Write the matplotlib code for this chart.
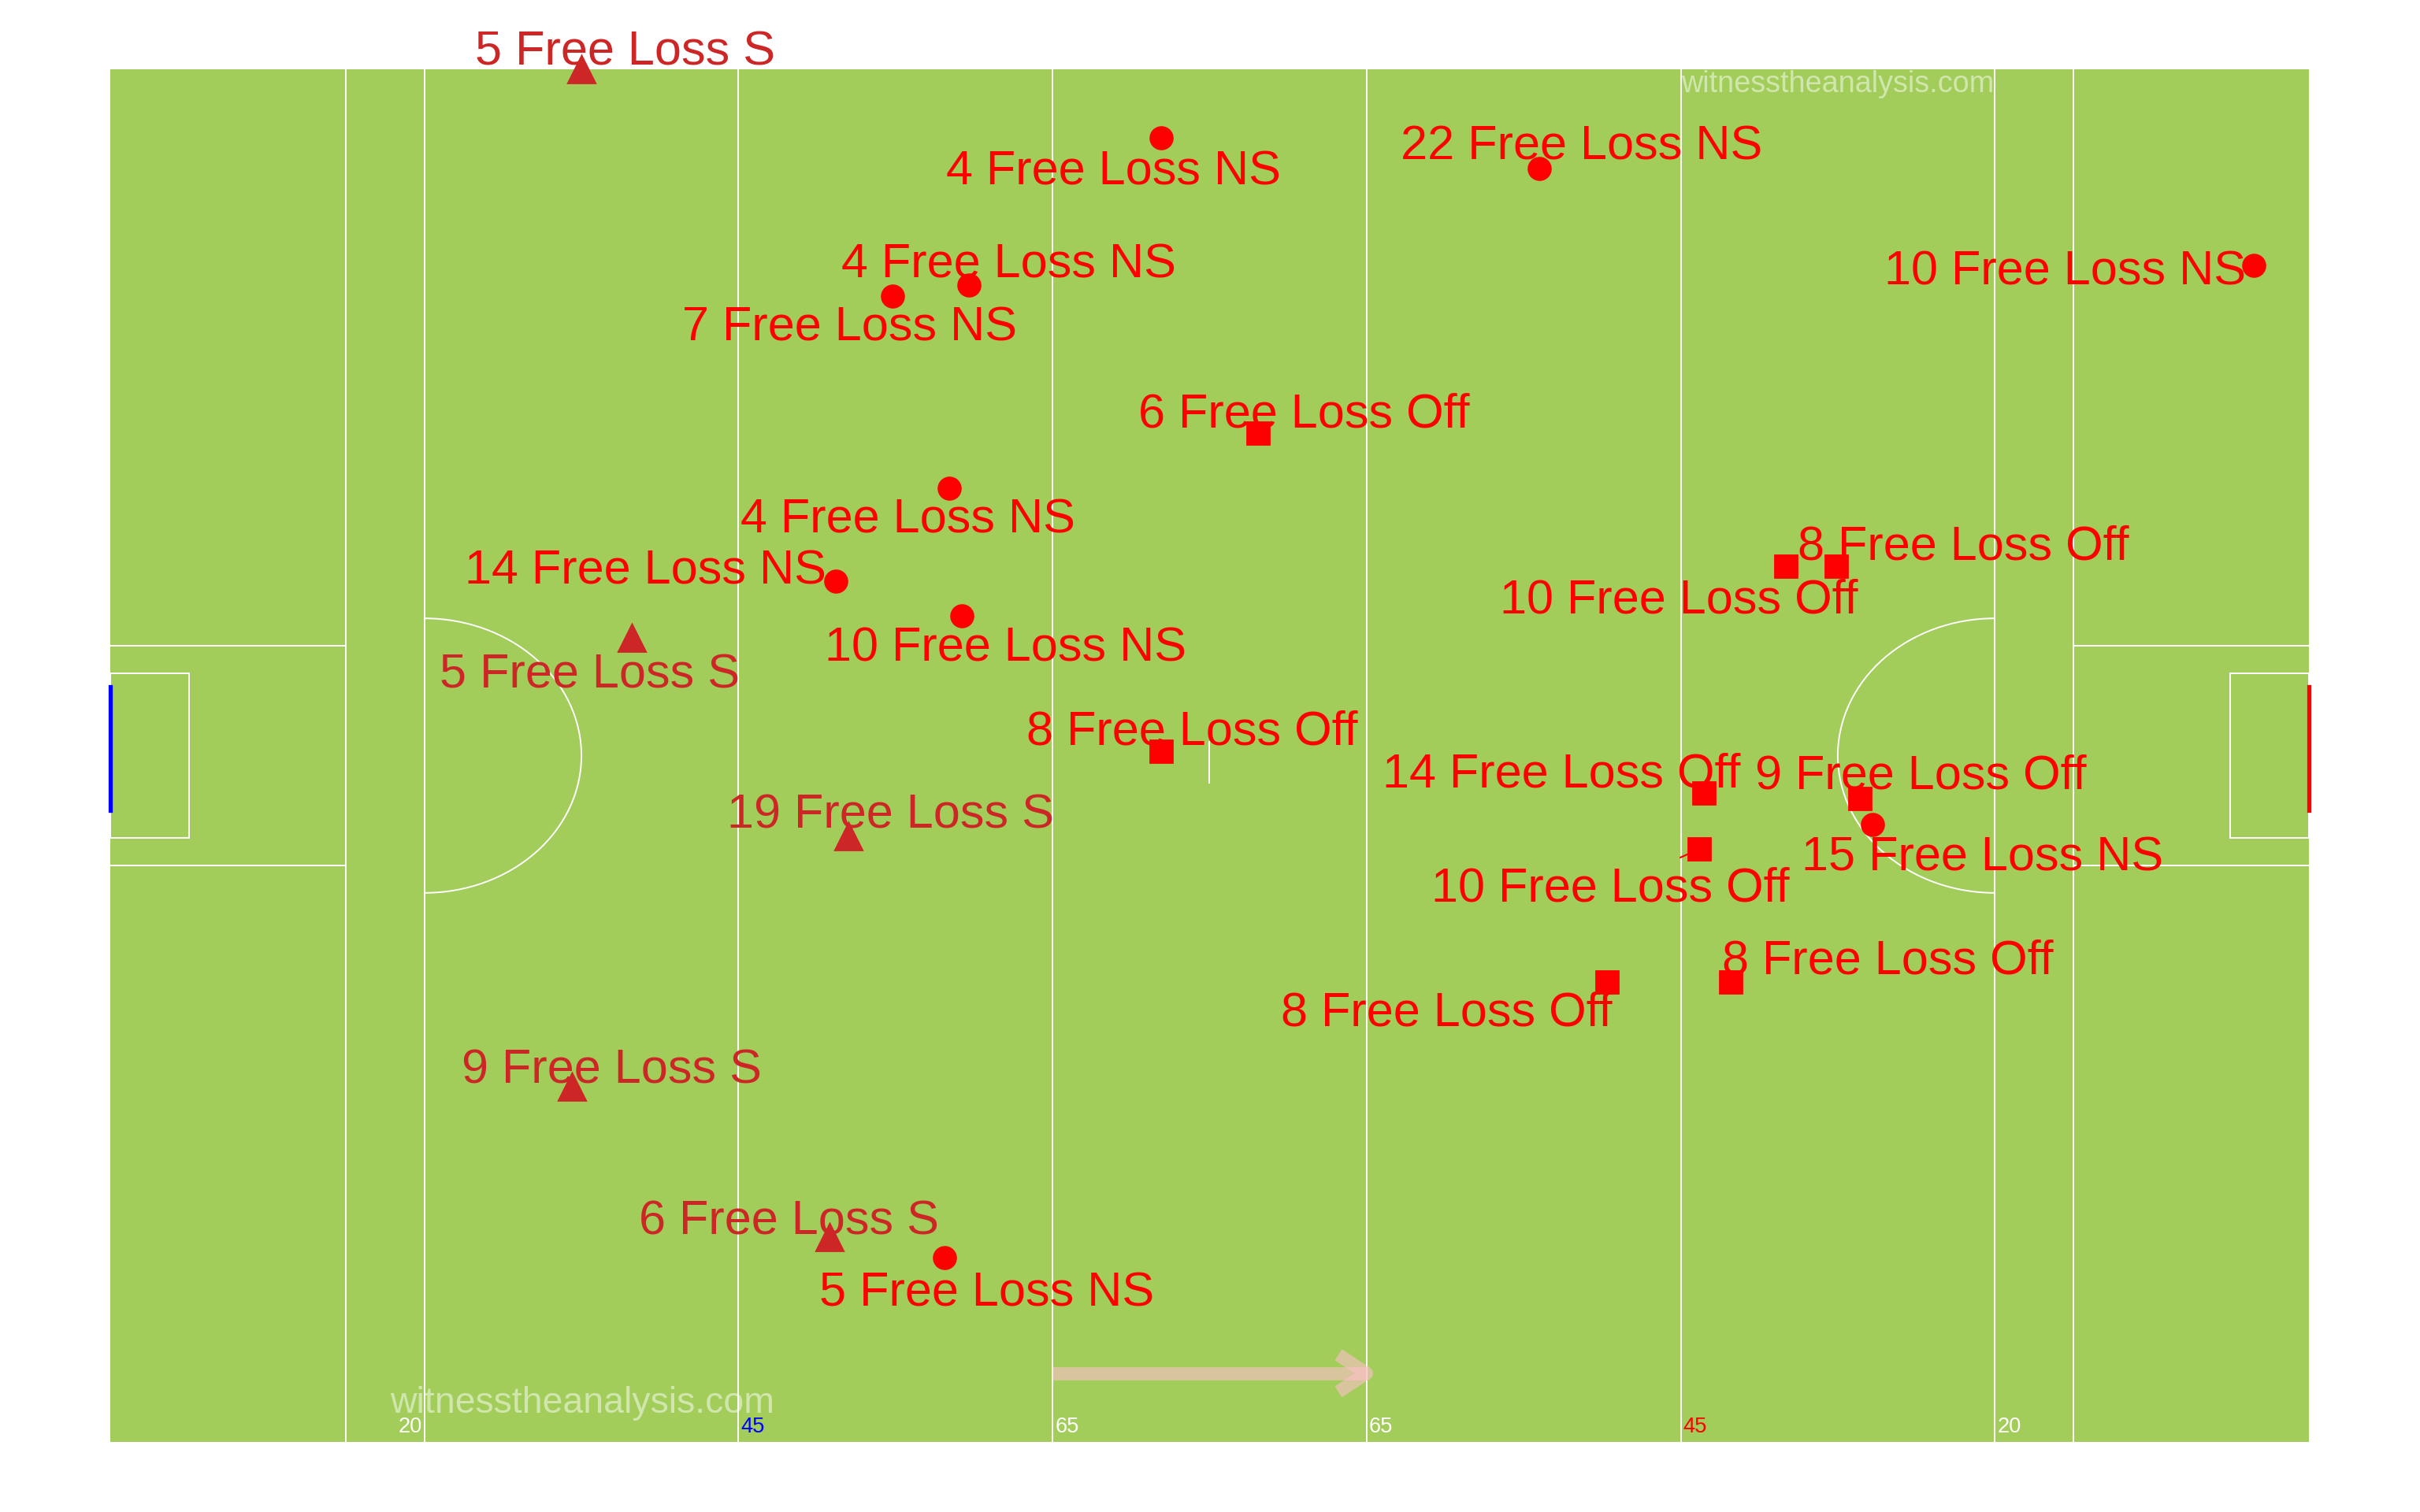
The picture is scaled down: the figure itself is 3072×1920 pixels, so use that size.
import matplotlib
matplotlib.use("Agg")
import matplotlib.pyplot as plt
from matplotlib.patches import Rectangle, Arc

plt.rcParams['font.family'] = ['Liberation Sans', 'DejaVu Sans']

# free losses, by outcome (pitch coords: x 0-140, y 0-100)
s_x = [30.0, 33.2, 47.0, 29.4, 45.8]
s_y = [100.0, 58.6, 44.1, 25.9, 14.9]
s_n = [5, 5, 19, 9, 6]

ns_x = [66.9, 91.0, 136.5, 54.7, 49.8, 53.4, 46.2, 54.2, 112.2, 53.1]
ns_y = [95.0, 92.8, 85.7, 84.3, 83.5, 69.5, 62.7, 60.2, 45.0, 13.4]
ns_n = [4, 22, 10, 4, 7, 4, 14, 10, 15, 5]

off_x = [73.1, 106.7, 109.9, 66.9, 101.5, 111.4, 101.2, 95.3, 103.2]
off_y = [73.5, 63.8, 63.8, 50.3, 47.3, 46.9, 43.2, 33.5, 33.5]
off_n = [6, 10, 8, 8, 14, 9, 10, 8, 8]

# where the (repelled) labels ended up
s_lab = [(32.8, 101.2), (30.5, 55.8), (49.7, 45.6), (31.9, 27.0), (43.2, 16.0)]
ns_lab = [(63.9, 92.5), (93.7, 94.3), (124.5, 85.2), (57.2, 85.7), (47.1, 81.1),
          (50.8, 67.1), (34.1, 63.4), (57.0, 57.8), (119.2, 42.5), (55.8, 10.8)]
off_lab = [(76.0, 74.8), (99.9, 61.3), (118.0, 65.2), (68.9, 51.7), (92.4, 48.6),
           (115.3, 48.5), (95.5, 40.3), (85.1, 31.2), (113.2, 35.0)]

lines_x = [15, 20, 40, 60, 80, 100, 120, 125]
yard_x = [18.2, 40, 60, 80, 100, 120]
yard_txt = ["20", "45", "65", "65", "45", "20"]
yard_col = ["white", "blue", "white", "white", "red", "white"]

grass = "#A2CD5A"
s_col = "#CD2626"

fig = plt.figure(figsize=(15.36, 9.6), dpi=200)
ax = fig.add_axes([0.04557, 0.04635, 0.90853, 0.90781])
ax.set_xlim(0, 140)
ax.set_ylim(0, 100)
ax.axis('off')

# pitch
ax.add_patch(Rectangle((0, 0), 140, 100, facecolor=grass, edgecolor='none', zorder=0))
lw = 0.7
for x in lines_x:
    ax.plot([x, x], [0, 100], color='white', lw=lw, zorder=1)
for x0, x1 in [(0, 15), (125, 140)]:
    ax.plot([x0, x1], [42, 42], color='white', lw=lw, zorder=1)
    ax.plot([x0, x1], [58, 58], color='white', lw=lw, zorder=1)
ax.add_patch(Rectangle((0, 44), 5, 12, fill=False, edgecolor='white', lw=lw, zorder=1))
ax.add_patch(Rectangle((135, 44), 5, 12, fill=False, edgecolor='white', lw=lw, zorder=1))
ax.add_patch(Arc((20, 50), 20, 20, theta1=-90, theta2=90, color='white', lw=lw, zorder=1))
ax.add_patch(Arc((120, 50), 20, 20, theta1=90, theta2=270, color='white', lw=lw, zorder=1))
ax.plot([70, 70], [48, 51], color='white', lw=lw, zorder=1)
ax.plot([0, 0], [46, 55], color='blue', lw=1.9, zorder=2, clip_on=False)
ax.plot([140, 140], [46, 55], color='red', lw=1.9, zorder=2, clip_on=False)

for x, t, c in zip(yard_x, yard_txt, yard_col):
    ax.text(x + 0.15, 0.7, t, color=c, fontsize=9.8, ha='left', va='baseline', zorder=2)

# direction of play: shaft and open head drawn separately so the overlap shows
ax.plot([60, 80], [5, 5], color='pink', alpha=0.6, lw=6, solid_capstyle='butt', zorder=2)
ax.plot([78.2, 80, 78.2], [6.35, 5, 3.65], color='pink', alpha=0.6, lw=6,
        solid_capstyle='butt', solid_joinstyle='round', zorder=2)

wm = (1, 1, 1, 0.5)
ax.text(100, 98.9, "witnesstheanalysis.com", color=wm, fontsize=13.6, ha='left', va='center', zorder=2)
ax.text(17.8, 2.8, "witnesstheanalysis.com", color=wm, fontsize=16.7, ha='left', va='center', zorder=2)

# markers
ax.plot(s_x, s_y, '^', color=s_col, markersize=12, ls='none', zorder=4, clip_on=False)
ax.plot(ns_x, ns_y, 'o', color='red', markersize=10, ls='none', zorder=4, clip_on=False)
ax.plot(off_x, off_y, 's', color='red', markersize=10, ls='none', zorder=4, clip_on=False)

fs = 22
for n, (lx, ly) in zip(s_n, s_lab):
    ax.text(lx, ly, f"{n} Free Loss S", color=s_col, fontsize=fs, ha='center', va='center', zorder=5)
for n, (lx, ly) in zip(ns_n, ns_lab):
    ax.text(lx, ly, f"{n} Free Loss NS", color='red', fontsize=fs, ha='center', va='center', zorder=5)
for i, (n, (lx, ly)) in enumerate(zip(off_n, off_lab)):
    if i == 6:
        ax.annotate(f"{n} Free Loss Off", xy=(off_x[i], off_y[i]), xytext=(lx, ly),
                    color='red', fontsize=fs, ha='center', va='center', zorder=5,
                    arrowprops=dict(arrowstyle='-', color='red', lw=0.8, shrinkA=5, shrinkB=5))
    else:
        ax.text(lx, ly, f"{n} Free Loss Off", color='red', fontsize=fs, ha='center', va='center', zorder=5)

fig.savefig("out.png", dpi=200, facecolor='white')
